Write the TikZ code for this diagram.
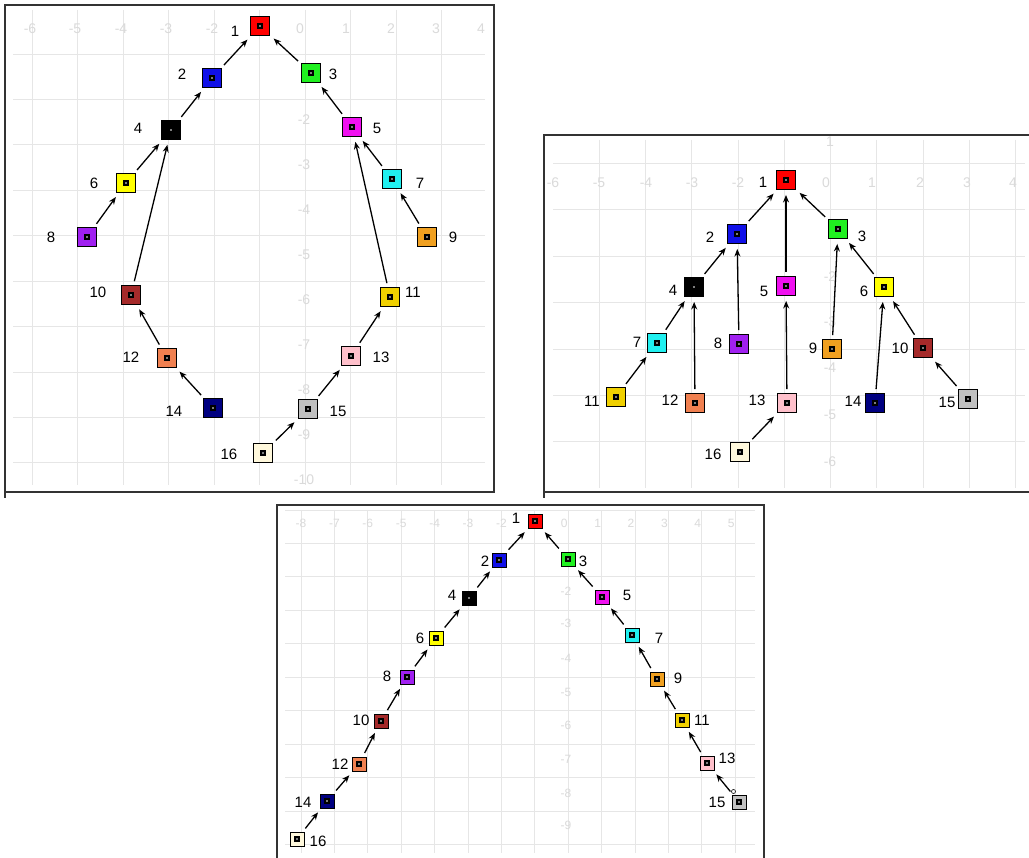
\documentclass[tikz,border=0pt]{standalone}
\usepackage{fontspec}
\setmainfont{Liberation Sans}
\usetikzlibrary{arrows.meta}
\definecolor{k1}{HTML}{FF0000}
\definecolor{k2}{HTML}{1010E8}
\definecolor{k3}{HTML}{20F020}
\definecolor{k4}{HTML}{000000}
\definecolor{k5}{HTML}{F010F0}
\definecolor{k6}{HTML}{FFFF00}
\definecolor{k7}{HTML}{20F0F0}
\definecolor{k8}{HTML}{A020F0}
\definecolor{k9}{HTML}{F0A020}
\definecolor{k10}{HTML}{A52A2A}
\definecolor{k11}{HTML}{F0D000}
\definecolor{k12}{HTML}{F08050}
\definecolor{k13}{HTML}{FFC0CB}
\definecolor{k14}{HTML}{000080}
\definecolor{k15}{HTML}{C0C0C0}
\definecolor{k16}{HTML}{FFF8DC}
\definecolor{gridc}{HTML}{E6E6E6}
\definecolor{gridt}{HTML}{DADADA}
\definecolor{framec}{HTML}{333333}
\tikzset{
  sq/.style={draw=black, line width=0.9pt, inner sep=0pt, fill=#1,
    path picture={\fill[black] ([shift={(-2.7pt,-2.7pt)}]path picture bounding box.center) rectangle ([shift={(2.7pt,2.7pt)}]path picture bounding box.center);
      \fill[white] (path picture bounding box.center) circle (0.8pt);}},
  big/.style={minimum size=19pt},
  small/.style={minimum size=14pt},
  lab/.style={inner sep=0pt, font=\fontsize{15}{15}\selectfont},
  glab/.style={inner sep=0pt, text=gridt, font=\fontsize{14}{14}\selectfont},
  glabs/.style={inner sep=0pt, text=gridt, font=\fontsize{12}{12}\selectfont},
  gline/.style={draw=gridc, line width=0.8pt},
  frame/.style={draw=framec, line width=1.1pt},
  arr/.style={-{Stealth[length=7.5pt,width=6pt]}, line width=1.3pt, shorten <=4pt, shorten >=5pt},
}
\newcommand\nd[6]{\node[sq=#4,#5] (#1) at (#2,#3) {}; }
\newcommand\lb[4]{\node[lab] (#1) at (#2,#3) {#4}; }
\begin{document}
\begin{tikzpicture}[x=1pt,y=-1pt]
\useasboundingbox (0,0) rectangle (1029,858);
\fill[white] (0,0) rectangle (1029,858);

% ---------------- Panel A ----------------
\foreach \i in {0,...,9} \draw[gline] (32+45.5*\i,10) -- (32+45.5*\i,485);
\foreach \y in {54,99.3,144.6,190,235,281,326,372,417,462} \draw[gline] (13,\y) -- (485,\y);
\foreach \v/\x in {-6/30,-5/75,-4/121,-3/166,-2/212,-1/257,0/300,1/346,2/391,3/436,4/481} \node[glab] at (\x,29) {\v};
\foreach \v in {-2,...,-10} \node[glab] at (304,{120+45*(-\v-2)}) {\v};
\draw[frame] (5,5) rectangle (494,492);
\draw[frame] (5,492) -- (5,498);

\nd{a1}{260}{26}{k1}{big}{}
\nd{a2}{212}{78}{k2}{big}{}
\nd{a3}{311}{73}{k3}{big}{}
\nd{a4}{171}{130}{k4}{big}{}
\nd{a5}{352}{127}{k5}{big}{}
\nd{a6}{126}{183}{k6}{big}{}
\nd{a7}{392}{179}{k7}{big}{}
\nd{a8}{87}{237}{k8}{big}{}
\nd{a9}{427}{237}{k9}{big}{}
\nd{a10}{131}{295}{k10}{big}{}
\nd{a11}{390}{297}{k11}{big}{}
\nd{a12}{167}{358}{k12}{big}{}
\nd{a13}{351}{356}{k13}{big}{}
\nd{a14}{213}{408}{k14}{big}{}
\nd{a15}{308}{409}{k15}{big}{}
\nd{a16}{263}{453}{k16}{big}{}

\lb{al1}{235}{31}{1}
\lb{al2}{182}{74}{2}
\lb{al3}{333}{74}{3}
\lb{al4}{138}{128}{4}
\lb{al5}{377}{128}{5}
\lb{al6}{94}{183}{6}
\lb{al7}{420}{183}{7}
\lb{al8}{51}{237}{8}
\lb{al9}{453}{237}{9}
\lb{al10}{98}{292}{10}
\lb{al11}{413}{292}{11}
\lb{al12}{131}{357}{12}
\lb{al13}{381}{357}{13}
\lb{al14}{174}{411}{14}
\lb{al15}{338}{411}{15}
\lb{al16}{229}{454}{16}

\foreach \s/\t in {a2/a1,a3/a1,a4/a2,a5/a3,a6/a4,a7/a5,a8/a6,a9/a7,a10/a4,a11/a5,a12/a10,a13/a11,a14/a12,a15/a13,a16/a15}
  \draw[arr] (\s) -- (\t);

% ---------------- Panel B ----------------
\begin{scope}
\clip (544,135) rectangle (1029,492);
\foreach \i in {0,...,9} \draw[gline] (599+46.3*\i,140) -- (599+46.3*\i,488);
\foreach \y in {163,209.5,256,302,349,395,441} \draw[gline] (553,\y) -- (1025,\y);
\foreach \v/\x in {-6/553,-5/599,-4/646,-3/692,-2/738,0/826,1/872,2/920,3/967,4/1013} \node[glab] at (\x,183) {\v};
\foreach \v/\y in {1/142,-2/277,-3/322,-4/368,-5/415,-6/462} \node[glab] at (830,\y) {\v};
\end{scope}
\draw[frame] (1029,135) -- (544,135) -- (544,492) -- (1029,492);
\draw[frame] (544,492) -- (544,498);

\nd{b1}{786}{180}{k1}{big}{}
\nd{b2}{737}{234}{k2}{big}{}
\nd{b3}{838}{229}{k3}{big}{}
\nd{b4}{694}{287}{k4}{big}{}
\nd{b5}{786}{286}{k5}{big}{}
\nd{b6}{884}{287}{k6}{big}{}
\nd{b7}{657}{343}{k7}{big}{}
\nd{b8}{739}{344}{k8}{big}{}
\nd{b9}{832}{349}{k9}{big}{}
\nd{b10}{923}{348}{k10}{big}{}
\nd{b11}{616}{397}{k11}{big}{}
\nd{b12}{695}{403}{k12}{big}{}
\nd{b13}{787}{403}{k13}{big}{}
\nd{b14}{875}{403}{k14}{big}{}
\nd{b15}{968}{399}{k15}{big}{}
\nd{b16}{740}{452}{k16}{big}{}

\lb{bl1}{763}{182}{1}
\lb{bl2}{710}{237}{2}
\lb{bl3}{862}{236}{3}
\lb{bl4}{673}{290}{4}
\lb{bl5}{764}{291}{5}
\lb{bl6}{864}{291}{6}
\lb{bl7}{637}{342}{7}
\lb{bl8}{718}{343}{8}
\lb{bl9}{813}{348}{9}
\lb{bl10}{900}{348}{10}
\lb{bl11}{592}{401}{11}
\lb{bl12}{670}{400}{12}
\lb{bl13}{757}{400}{13}
\lb{bl14}{853}{401}{14}
\lb{bl15}{947}{402}{15}
\lb{bl16}{713}{454}{16}

\foreach \s/\t in {b2/b1,b3/b1,b5/b1,b4/b2,b8/b2,b6/b3,b9/b3,b7/b4,b12/b4,b13/b5,b10/b6,b14/b6,b11/b7,b16/b13,b15/b10}
  \draw[arr] (\s) -- (\t);

% ---------------- Panel C ----------------
\foreach \i in {0,...,13} \draw[gline] (301+33.4*\i,510) -- (301+33.4*\i,853);
\foreach \y in {510,543,576.5,610,643,677,710,744,777,811,844} \draw[gline] (285,\y) -- (755,\y);
\foreach \v in {-8,...,-2} \node[glabs] at ({301+33.4*(\v+8)},523) {\v};
\foreach \v in {0,...,5} \node[glabs] at ({301+33.4*(\v+8)-4},523) {\v};
\foreach \v/\y in {-2/591,-3/623,-4/658,-5/692,-6/725,-7/759,-8/793,-9/825} \node[glabs] at (566,\y) {\v};
\draw[frame] (277,858) -- (277,505) -- (764,505) -- (764,858);

\nd{c1}{535}{521}{k1}{small}{}
\nd{c2}{499}{560}{k2}{small}{}
\nd{c3}{568}{559}{k3}{small}{}
\nd{c4}{469}{598}{k4}{small}{}
\nd{c5}{602}{597}{k5}{small}{}
\nd{c6}{436}{638}{k6}{small}{}
\nd{c7}{632}{635}{k7}{small}{}
\nd{c8}{407}{677}{k8}{small}{}
\nd{c9}{657}{679}{k9}{small}{}
\nd{c10}{381}{721}{k10}{small}{}
\nd{c11}{682}{720}{k11}{small}{}
\nd{c12}{359}{764}{k12}{small}{}
\nd{c13}{707}{763}{k13}{small}{}
\nd{c14}{327}{801}{k14}{small}{}
\nd{c15}{739}{802}{k15}{small}{}
\nd{c16}{297}{839}{k16}{small}{}

\lb{cl1}{516}{518}{1}
\lb{cl2}{485}{561}{2}
\lb{cl3}{583}{561}{3}
\lb{cl4}{452}{595}{4}
\lb{cl5}{627}{595}{5}
\lb{cl6}{420}{638}{6}
\lb{cl7}{659}{638}{7}
\lb{cl8}{387}{676}{8}
\lb{cl9}{678}{678}{9}
\lb{cl10}{361}{720}{10}
\lb{cl11}{702}{720}{11}
\lb{cl12}{340}{764}{12}
\lb{cl13}{727}{758}{13}
\lb{cl14}{303}{802}{14}
\lb{cl15}{717}{802}{15}
\lb{cl16}{318}{841}{16}

\foreach \s/\t in {c2/c1,c3/c1,c4/c2,c5/c3,c6/c4,c7/c5,c8/c6,c9/c7,c10/c8,c11/c9,c12/c10,c13/c11,c14/c12,c15/c13,c16/c14}
  \draw[arr] (\s) -- (\t);
\coordinate (h15) at (733.5,791.5);
\draw[fill=white, line width=0.6pt] (h15) circle (2pt);
\end{tikzpicture}
\end{document}
